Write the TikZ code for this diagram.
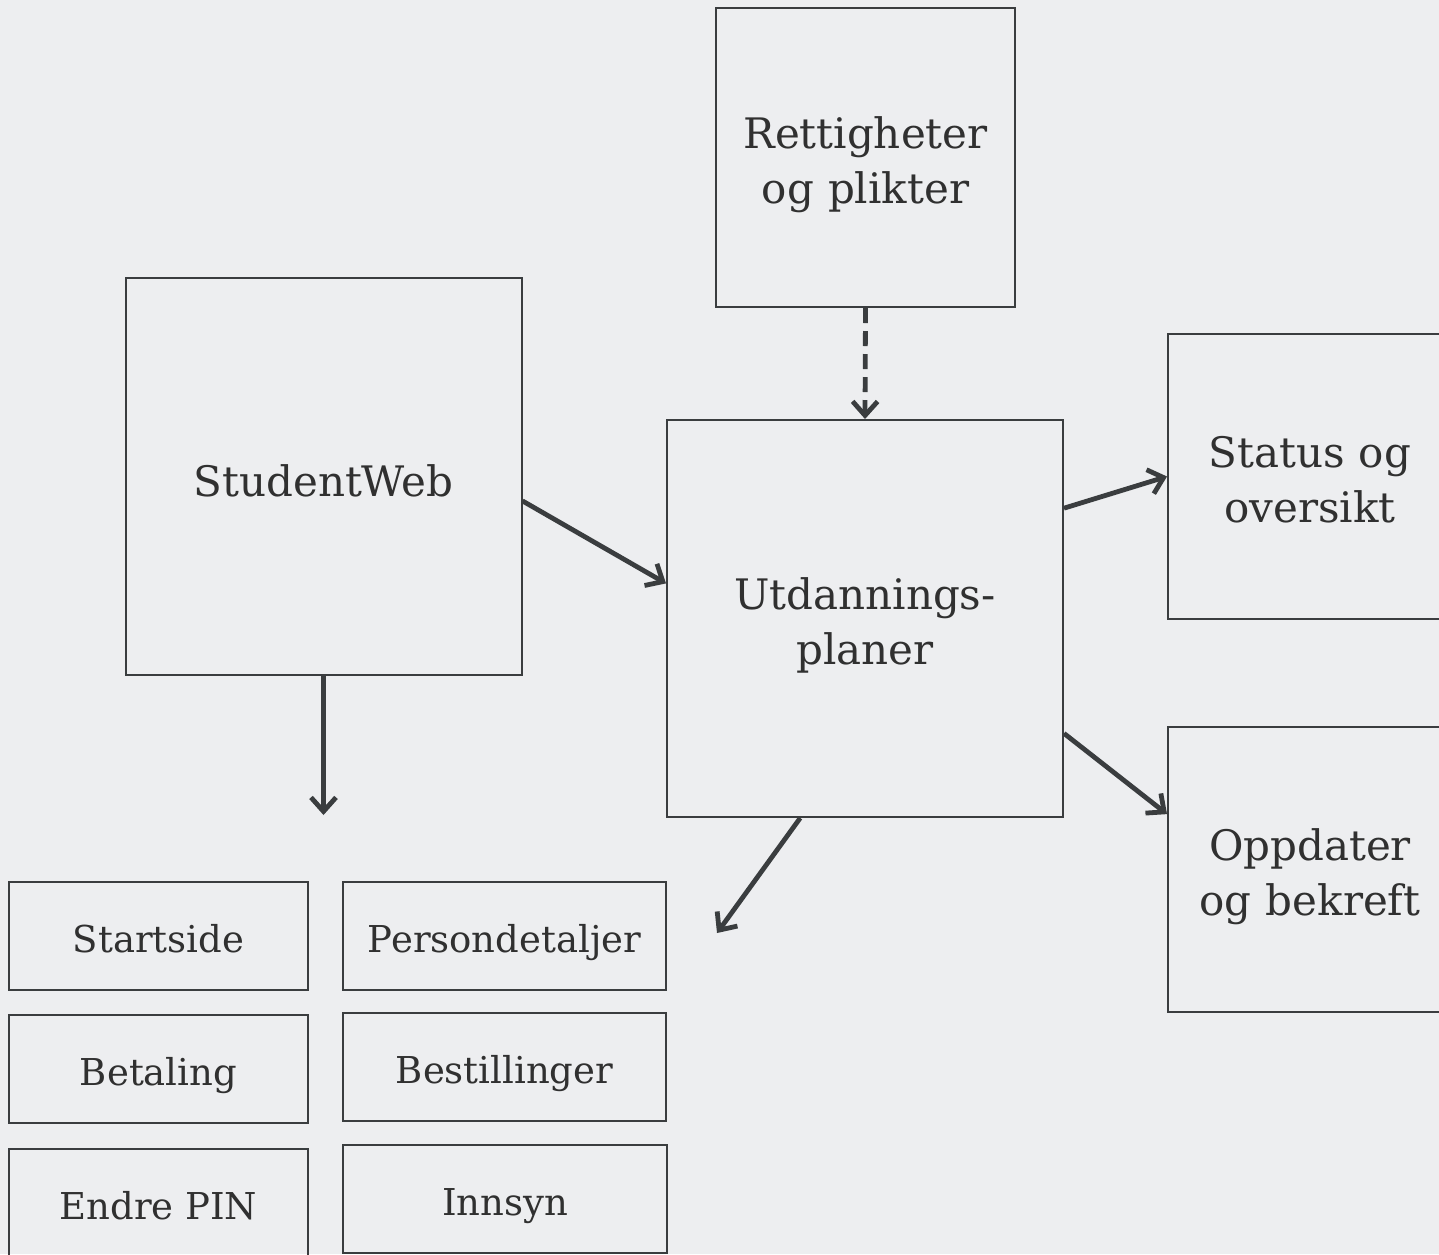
\documentclass[tikz,border=0pt]{standalone}
\usepackage{fontspec}
\setmainfont{DejaVu Serif}
\usetikzlibrary{arrows.meta}
\definecolor{bgpaper}{RGB}{237,238,240}
\definecolor{ink}{RGB}{58,61,63}
\definecolor{txt}{RGB}{48,48,48}
\tikzset{
  boks/.style={draw=ink, line width=1pt, text=txt, inner sep=0pt,
    font=\fontsize{21}{27.5}\selectfont},
  stor/.style={boks, minimum width=198pt, minimum height=198.5pt},
  side/.style={boks, minimum width=142pt, minimum height=142.5pt},
  meny/.style={boks, minimum height=54pt, font=\fontsize{18.5}{22}\selectfont,
    text height=16.5pt, text depth=0pt},
  tolinjer/.style={align=center, text width=#1, text height=10pt, text depth=19pt},
  enlinje/.style={text height=20pt, text depth=0pt},
  pil/.style={draw=ink, line width=2.4pt, -{Straight Barb[length=7pt,width=12.5pt]}},
}
\begin{document}
\begin{tikzpicture}[x=0.5pt,y=-0.5pt]
  % Bakgrunn
  \fill[bgpaper] (0,0) rectangle (1439,1254);
  \useasboundingbox (0,0) rectangle (1439,1254);

  % Hovedbokser
  \node[boks, tolinjer=140pt, minimum width=149.5pt, minimum height=149.5pt] (rett) at (865.5,157.5) {Rettigheter\\og plikter};
  \node[stor, enlinje] (sweb) at (323.5,476.5) {StudentWeb};
  \node[stor, tolinjer=180pt] (utd) at (865,618.5) {Utdannings-\\planer};
  \node[side, tolinjer=135pt] (status) at (1310,476.5) {Status og\\oversikt};
  \node[side, tolinjer=135pt] (oppd) at (1310,869) {Oppdater\\og bekreft};

  % Menyvalg i StudentWeb
  \node[meny, minimum width=149.5pt] (start) at (158.5,936) {Startside};
  \node[meny, minimum width=161.5pt] (pers) at (504.5,936) {Persondetaljer};
  \node[meny, minimum width=149.5pt] (betal) at (158.5,1068.5) {Betaling};
  \node[meny, minimum width=161.5pt] (best) at (504.5,1066.5) {Bestillinger};
  \node[meny, minimum width=149.5pt] (endre) at (158.5,1203) {Endre PIN};
  \node[meny, minimum width=162pt] (innsyn) at (505,1198.5) {Innsyn};

  % Piler
  \coordinate (swebned) at (323.5,815);
  \coordinate (utdned) at (717,933);
  \draw[pil] (sweb.south) -- (swebned);
  \draw[pil] (sweb.-7.6) -- (utd.170.1);
  \draw[pil, dash pattern=on 7.5pt off 4pt] (rett.south) -- (utd.north);
  \draw[pil] (utd.29.2) -- (status.west);
  \draw[pil] (utd.-30.5) -- (oppd.159.5);
  \draw[pil] (utd.-108.4) -- (utdned);
\end{tikzpicture}
\end{document}
